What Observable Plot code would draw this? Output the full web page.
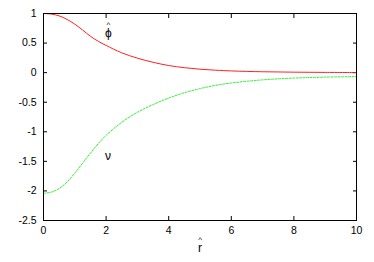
<!DOCTYPE html>
<html>
<head>
<meta charset="utf-8">
<script src="https://cdn.jsdelivr.net/npm/d3@7"></script>
<script src="https://cdn.jsdelivr.net/npm/@observablehq/plot@0.6"></script>
<style>
  html, body { margin: 0; padding: 0; background: #fff; }
</style>
</head>
<body>
<div id="chart"></div>
<script>
const rValues = [0, 0.25, 0.5, 0.75, 1, 1.25, 1.5, 1.75, 2, 2.5, 3, 3.5, 4, 4.5, 5, 5.5, 6, 7, 8, 9, 10];
const phiValues = [1, 0.99, 0.96, 0.9, 0.82, 0.72, 0.615, 0.53, 0.46, 0.335, 0.245, 0.175, 0.12, 0.084, 0.058, 0.041, 0.029, 0.015, 0.008, 0.004, 0.002];
const nuValues = [-2.04, -2.02, -1.96, -1.85, -1.70, -1.53, -1.36, -1.2, -1.06, -0.84, -0.67, -0.54, -0.43, -0.34, -0.27, -0.215, -0.175, -0.122, -0.092, -0.076, -0.066];

const xTicks = [0, 2, 4, 6, 8, 10];
const yTicks = [1, 0.5, 0, -0.5, -1, -1.5, -2, -2.5];

// annotation text: symbol and its hat
const curveLabels = [
  {name: "ϕ", r: 2.07, v: 0.66},
  {name: "ν", r: 2.06, v: -1.42}
];
const hatLabels = [
  {name: "^", r: 2.07, v: 0.82}
];
const xLabel = {name: "r", hat: "^", r: 5.0};

const phiData = rValues.map((r, i) => ({r, v: phiValues[i]}));
const nuData = rValues.map((r, i) => ({r, v: nuValues[i]}));

const font = "Liberation Sans, Arial, Helvetica, sans-serif";

const chart = Plot.plot({
  width: 374,
  height: 262,
  marginLeft: 43,
  marginRight: 18,
  marginTop: 13,
  marginBottom: 42,
  style: {fontFamily: font, fontSize: "10.5px", background: "#fff", color: "#000"},
  x: {domain: [0, 10]},
  y: {domain: [-2.5, 1]},
  marks: [
    Plot.axisX({anchor: "bottom", ticks: xTicks, tickSize: -4, tickPadding: 10, label: null, tickFormat: d => String(d)}),
    Plot.axisX({anchor: "top", ticks: xTicks, tickSize: -4, text: null, label: null}),
    Plot.axisY({anchor: "left", ticks: yTicks, tickSize: -4, tickPadding: 11, label: null, tickFormat: d => String(d)}),
    Plot.axisY({anchor: "right", ticks: yTicks, tickSize: -4, text: null, label: null}),
    Plot.line(phiData, {x: "r", y: "v", stroke: "#ff2020", strokeWidth: 1, curve: "catmull-rom"}),
    Plot.line(nuData, {x: "r", y: "v", stroke: "#30f030", strokeWidth: 1, strokeDasharray: "2,1.5", curve: "catmull-rom"}),
    Plot.frame({stroke: "#000", strokeWidth: 1}),
    Plot.text(curveLabels, {x: "r", y: "v", text: "name", fontSize: 12, fill: "#000"}),
    Plot.text(hatLabels, {x: "r", y: "v", text: "name", fontSize: 8, fill: "#000"}),
    Plot.text([xLabel], {x: "r", text: "name", frameAnchor: "bottom", dy: 31, fontSize: 12, fill: "#000"}),
    Plot.text([xLabel], {x: "r", text: "hat", frameAnchor: "bottom", dy: 21, fontSize: 8, fill: "#000"})
  ]
});
document.getElementById("chart").appendChild(chart);
</script>
</body>
</html>
